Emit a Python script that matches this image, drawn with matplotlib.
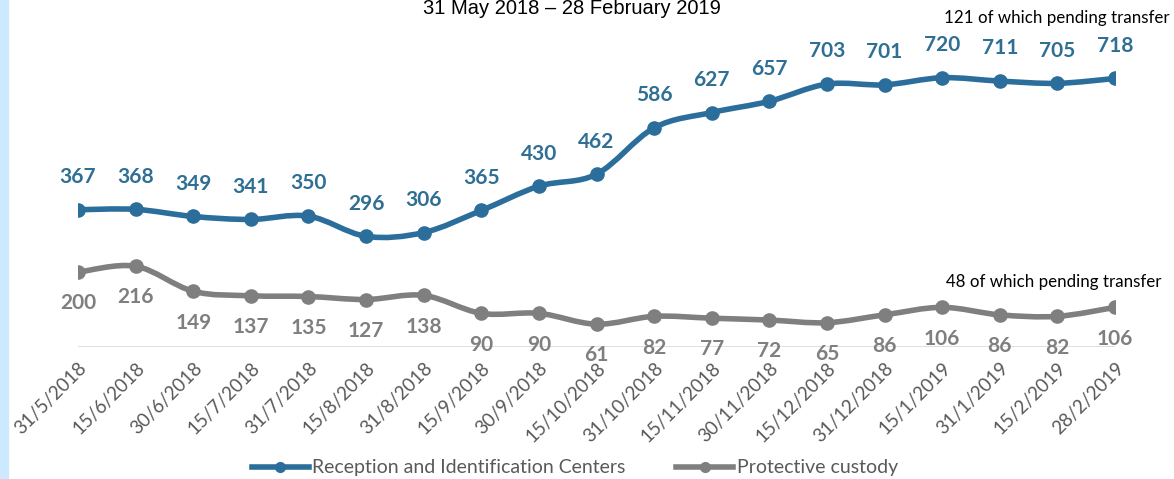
import matplotlib
matplotlib.use('agg')

import matplotlib.pyplot as plt
import numpy as np
from matplotlib.path import Path
from matplotlib.patches import PathPatch, Rectangle
from matplotlib.lines import Line2D

dates = ['31/5/2018', '15/6/2018', '30/6/2018', '15/7/2018', '31/7/2018', '15/8/2018',
         '31/8/2018', '15/9/2018', '30/9/2018', '15/10/2018', '31/10/2018', '15/11/2018',
         '30/11/2018', '15/12/2018', '31/12/2018', '15/1/2019', '31/1/2019', '15/2/2019',
         '28/2/2019']
ric = [367, 368, 349, 341, 350, 296, 306, 365, 430, 462, 586, 627, 657, 703, 701, 720,
       711, 705, 718]
custody = [200, 216, 149, 137, 135, 127, 138, 90, 90, 61, 82, 77, 72, 65, 86, 106, 86,
           82, 106]

blue = '#2B6E9C'
blue_txt = '#2F6F93'
grey = '#7F7F7F'

plt.rcParams['font.family'] = ['Lato', 'DejaVu Sans']

fig = plt.figure(figsize=(11.74, 4.79), dpi=100)
ax = fig.add_axes([78 / 1174, 1 - 347 / 479, (1115 - 78) / 1174, 322 / 479])
n = len(ric)
x = np.arange(n)
ax.set_xlim(0, n - 1)
ax.set_ylim(0, 322 / 0.374)


def smooth_path(xs, ys, t=1 / 6):
    # Catmull-Rom style bezier through the points (like Excel smoothed lines)
    verts = [(xs[0], ys[0])]
    codes = [Path.MOVETO]
    for i in range(len(xs) - 1):
        p0 = (xs[max(i - 1, 0)], ys[max(i - 1, 0)])
        p1 = (xs[i], ys[i])
        p2 = (xs[i + 1], ys[i + 1])
        p3 = (xs[min(i + 2, len(xs) - 1)], ys[min(i + 2, len(xs) - 1)])
        c1 = (p1[0] + (p2[0] - p0[0]) * t, p1[1] + (p2[1] - p0[1]) * t)
        c2 = (p2[0] - (p3[0] - p1[0]) * t, p2[1] - (p3[1] - p1[1]) * t)
        verts += [c1, c2, p2]
        codes += [Path.CURVE4] * 3
    return Path(verts, codes)


for ys, col in [(ric, blue), (custody, grey)]:
    ax.add_patch(PathPatch(smooth_path(x, ys), fill=False, edgecolor=col, lw=4,
                           capstyle='round', joinstyle='round'))
    ax.plot(x, ys, 'o', color=col, markersize=9.5, zorder=3)

for xi, v in zip(x, ric):
    ax.annotate(str(v), (xi, v), xytext=(0, 23.5), textcoords='offset points',
                ha='center', va='center', fontsize=15, fontweight='bold', color=blue_txt)
for xi, v in zip(x, custody):
    ax.annotate(str(v), (xi, v), xytext=(0, -22.5), textcoords='offset points',
                ha='center', va='center', fontsize=15, fontweight='bold', color=grey)

ax.axhline(0, color='#D9D9D9', lw=1.2, zorder=0)
for s in ax.spines.values():
    s.set_visible(False)
ax.set_yticks([])
ax.set_xticks(x)
ax.set_xticklabels(dates, rotation=45, ha='right', va='top', rotation_mode='anchor',
                   fontsize=13.5, color='#595959')
ax.tick_params(axis='x', length=0, pad=9)

ax.annotate('121 of which pending transfer', (n - 1, ric[-1]), xytext=(1170, 479 - 18),
            textcoords='figure pixels', ha='right', va='center', fontsize=12.2, color='black')
ax.annotate('48 of which pending transfer', (n - 1, custody[-1]), xytext=(1162, 479 - 282),
            textcoords='figure pixels', ha='right', va='center', fontsize=12.2, color='black')

fig.text(572 / 1174, 1 - 9 / 479, '31 May 2018 \u2013 28 February 2019', ha='center',
         va='center', fontsize=14.5, family='Liberation Sans')

fig.patches.append(Rectangle((0, 0), 8 / 1174, 1, transform=fig.transFigure,
                             color='#CDE9FF', zorder=0))

handles = [Line2D([], [], color=blue, lw=4, marker='o', markersize=7),
           Line2D([], [], color=grey, lw=4, marker='o', markersize=7)]
fig.legend(handles, ['Reception and Identification Centers', 'Protective custody'],
           loc='center', bbox_to_anchor=(575 / 1174, 1 - 468 / 479), ncol=2, frameon=False,
           fontsize=14, labelcolor='#595959', handlelength=2.9, handletextpad=0.2,
           columnspacing=2.6)

fig.savefig('out.png', dpi=100)
